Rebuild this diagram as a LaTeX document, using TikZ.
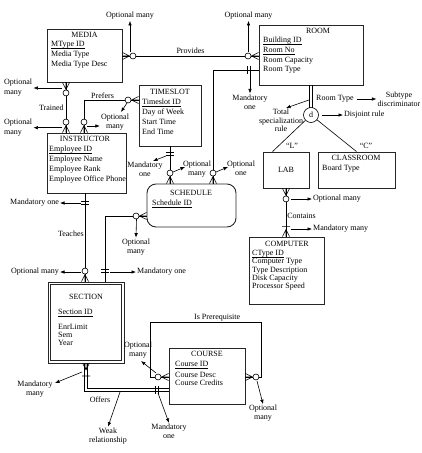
\documentclass[tikz,border=0pt]{standalone}
\usepackage{fontspec}
\setmainfont{Liberation Serif}
\usetikzlibrary{arrows.meta, positioning}
\newcommand{\keyattr}[1]{\underline{\smash{#1}}}

\begin{document}
\begin{tikzpicture}[
    x=1pt, y=-1pt,
    entity/.style={draw=black!85, line width=0.9pt, inner sep=0pt, font=\fontsize{8}{9}\selectfont},
    title/.style={font=\fontsize{8}{9}\selectfont, inner sep=0pt, anchor=base},
    attrs/.style={font=\fontsize{8}{10}\selectfont, align=left, inner sep=0pt, anchor=north west},
    note/.style={font=\fontsize{8}{9}\selectfont, align=center, inner sep=1pt},
    conn/.style={line width=0.6pt},
    arrow/.style={conn, -{Latex[length=4.5pt, width=3.5pt]}},
    pics/optmany/.style={code={
        \draw[conn] (0,-3.5) -- (-7,0) -- (0,3.5) (-7,0) -- (0,0);
        \draw[conn, fill=white] (-10.5,0) circle (3);}},
    pics/mandone/.style={code={
        \draw[conn] (-#1,-4) -- (-#1,4) (-#1-3,-4) -- (-#1-3,4);}},
    pics/mandmany/.style={code={
        \draw[conn] (0,-3.5) -- (-7,0) -- (0,3.5) (-7,0) -- (0,0) (-#1,-4) -- (-#1,4);}}
]
\useasboundingbox (0,0) rectangle (422,453);

% entities
\node[entity, minimum width=75pt, minimum height=53pt] (media) at (84.5,55.5) {};
\node[title] (mediat) at (84.5,37.5) {MEDIA};
\node[attrs] (mediaa) at (51,39.5) {\strut\keyattr{MType ID}\\Media Type\\Media Type Desc};

\node[entity, minimum width=104pt, minimum height=60pt] (room) at (311,55) {};
\node[title] (roomt) at (318,33.5) {ROOM};
\node[attrs, font=\fontsize{8}{9.7}\selectfont] (rooma) at (263,35.7) {\strut\keyattr{Building ID}\\\keyattr{Room No}\\Room Capacity\\Room Type};

\node[entity, minimum width=62pt, minimum height=61pt] (timeslot) at (170,115.5) {};
\node[title] (timeslott) at (170,94.5) {TIMESLOT};
\node[attrs] (timeslota) at (142,97.5) {\strut\keyattr{Timeslot ID}\\Day of Week\\Start Time\\End Time};

\node[entity, minimum width=79pt, minimum height=60pt] (instructor) at (86.5,163) {};
\node[title] (instructort) at (85,141.5) {INSTRUCTOR};
\node[attrs] (instructora) at (49,144.5) {\strut\keyattr{Employee ID}\\Employee Name\\Employee Rank\\Employee Office Phone};

\node[entity, rounded corners=9pt, minimum width=89pt, minimum height=43pt] (schedule) at (191.5,205.5) {};
\node[title] (schedulet) at (191,195.5) {SCHEDULE};
\node[title, anchor=base west] (schedulea) at (152,205.5) {\keyattr{Schedule ID}};

\node[entity, minimum width=46pt, minimum height=36pt] (lab) at (286,170) {LAB};

\node[entity, minimum width=77pt, minimum height=36pt] (classroom) at (356.5,170) {};
\node[title] (classroomt) at (356,160.5) {CLASSROOM};
\node[title, anchor=base west] (classrooma) at (322,170.5) {Board Type};

\node[entity, minimum width=75pt, minimum height=67pt] (computer) at (286.5,270.5) {};
\node[title] (computert) at (287,246.5) {COMPUTER};
\node[attrs, font=\fontsize{8}{8.2}\selectfont] (computera) at (252,249.8) {\strut\keyattr{CType ID}\\Computer Type\\Type Description\\Disk Capacity\\Processor Speed};

\node[entity, minimum width=76pt, minimum height=81pt] (sect) at (86,322.5) {};
\draw[draw=black!85, line width=0.9pt] ([shift={(3,3)}]sect.north west) rectangle ([shift={(-3,-3)}]sect.south east);
\node[title] (sectt) at (86,299.5) {SECTION};
\node[title, anchor=base west] (sectid) at (58,314.5) {\keyattr{Section ID}};
\node[attrs, font=\fontsize{8}{7.8}\selectfont] (secta) at (58,324) {\strut EnrLimit\\Sem\\Year};

\node[entity, minimum width=76pt, minimum height=56pt] (course) at (207,376) {};
\node[title] (courset) at (207,356.5) {COURSE};
\node[title, anchor=base west] (courseid) at (175,366.5) {\keyattr{Course ID}};
\node[attrs, font=\fontsize{8}{8}\selectfont] (coursea) at (175,371.9) {\strut Course Desc\\Course Credits};

\node[draw, circle, conn, minimum size=15pt, inner sep=0pt, font=\fontsize{8}{9}\selectfont] (disc) at (311,115) {d};

% relationships
\draw[conn] (media.east |- 0,56) -- node[note, above=1pt] (provides) {Provides} (room.west |- 0,56);
\pic[rotate=180] at (media.east |- 0,56) {optmany};
\pic at (room.west |- 0,56) {optmany};

\draw[conn] (room.west |- 0,70) -| (schedule.north -| 213,0);
\pic at (room.west |- 0,70) {mandone=8};
\pic[rotate=-90] at (schedule.north -| 213,0) {optmany};

\draw[conn] (media.south -| 66,0) -- node[note, left=1pt] (trained) {Trained} (instructor.north -| 66,0);
\pic[rotate=90] at (media.south -| 66,0) {optmany};
\pic[rotate=-90] at (instructor.north -| 66,0) {optmany};

\draw[conn] (timeslot.west |- 0,100) -| node[note, above, pos=0.33] (prefers) {Prefers} (instructor.north -| 84,0);
\pic at (timeslot.west |- 0,100) {optmany};
\pic[rotate=-90] at (instructor.north -| 84,0) {optmany};

\draw[conn] (instructor.south -| 85,0) -- node[note, left, pos=0.46] (teaches) {Teaches} (sect.north -| 85,0);
\pic[rotate=90] at (instructor.south -| 85,0) {mandone=8};
\pic[rotate=-90] at (sect.north -| 85,0) {optmany};

\draw[conn] (schedule.west |- 0,216) -| (sect.north -| 105,0);
\pic at (schedule.west |- 0,216) {optmany};
\pic[rotate=-90] at (sect.north -| 105,0) {mandone=9};

\draw[conn] (timeslot.south) -- (schedule.north -| timeslot.south);
\pic[rotate=90] at (timeslot.south) {mandone=6};
\pic[rotate=-90] at (schedule.north -| timeslot.south) {optmany};

% double line to the subtype circle
\draw[conn] ([xshift=-1.5pt]room.south) -- ([xshift=-1.5pt, yshift=-0.5pt]disc.north);
\draw[conn] ([xshift=1.5pt]room.south) -- ([xshift=1.5pt, yshift=-0.5pt]disc.north);
\draw[conn] (disc) -- ([xshift=10pt]lab.north west);
\draw[conn] (disc) -- (classroom.north);

\draw[conn] (lab.south) -- node[note, right, pos=0.57] (contains) {Contains} (computer.north -| lab.south);
\pic[rotate=90] at (lab.south) {optmany};
\pic[rotate=-90] at (computer.north -| lab.south) {mandmany=10};

\draw[conn] (course.west |- 0,377) -| ++(-18,-55) -| node[note, above, pos=0.3] (prereq) {Is Prerequisite} ++(111,55) -- (course.east |- 0,377);
\pic at (course.west |- 0,377) {optmany};
\pic[rotate=180] at (course.east |- 0,377) {optmany};

% double line for the weak relationship
\coordinate (offtop) at (86,363);
\coordinate (offbend) at (86,390);
\draw[conn] ([xshift=-1.5pt]offtop) |- ([yshift=-1.5pt]course.west |- offbend);
\draw[conn] ([xshift=1.5pt]offtop) |- ([yshift=1.5pt]course.west |- offbend);
\node[note] (offers) at (100,400) {Offers};
\pic[rotate=90] at (offtop) {mandmany=13};
\pic at (course.west |- offbend) {mandone=10};

% annotations
\node[note] (omprov1) at (130,16) {Optional many};
\node[note] (omprov2) at (248.5,16) {Optional many};
\draw[arrow] (130,52) -- (omprov1.south);
\draw[arrow] (248.5,52) -- (omprov2.south);

\node[note] (moroom) at (250,102) {Mandatory\\one};
\draw[arrow] (250,72) -- (moroom.north);
\node[note] (oosched) at (241,168.5) {Optional\\one};
\draw[arrow] (216,172) -- (228,167);

\node[note, align=left, anchor=west, font=\fontsize{8}{10}\selectfont] (omtrain1) at (3,88) {Optional\\many};
\node[note, align=left, anchor=west, font=\fontsize{8}{10}\selectfont] (omtrain2) at (3,127.7) {Optional\\many};
\draw[arrow] (62,88) -- (omtrain1.east);
\draw[arrow] (62,127.7) -- (omtrain2.east);

\node[note] (omprefer) at (115,122) {Optional\\many};
\draw[arrow] (127,103) -- (121,112);
\draw[arrow] (87,126) -- (omprefer.west |- 0,126);

\node[note] (motime) at (145,169) {Mandatory\\one};
\draw[arrow] (166,156) -- (153,161);
\node[note] (omtime) at (197,169) {Optional\\many};
\draw[arrow] (173,172) -- (185,167);

\node[note, anchor=east] (moteach) at (60,203) {Mandatory one};
\draw[arrow] (81,203) -- (moteach.east);
\node[note, anchor=east] (omteach) at (60,272) {Optional many};
\draw[arrow] (81,272) -- (omteach.east);

\node[note] (omsched) at (136,247) {Optional\\many};
\draw[arrow] (136.5,219) -- (omsched.north);
\node[note, anchor=west] (mosched) at (136,272) {Mandatory one};
\draw[arrow] (110,272) -- (mosched.west);

\node[note, anchor=west] (rtype) at (315,99) {Room Type};
\node[note] (subtype) at (399,99) {Subtype\\discriminator};
\draw[arrow] ([xshift=2pt]rtype.east) -- (subtype.west);
\node[note, font=\fontsize{8}{8.5}\selectfont] (totspec) at (281,120.5) {Total\\specialization\\rule};
\draw[arrow] (309,100) -- (286,108);
\node[note, anchor=west] (disjoint) at (343,115) {Disjoint rule};
\draw[arrow] (322,115) -- (disjoint.west);
\node[note] (lsub) at (292,146) {``L''};
\node[note] (csub) at (366,146) {``C''};

\node[note, anchor=west] (omlab) at (312,199) {Optional many};
\draw[arrow] (291,199) -- (omlab.west);
\node[note, anchor=west] (mmlab) at (312,229) {Mandatory many};
\draw[arrow] (291,229) -- (mmlab.west);

\node[note] (ompre1) at (138,350.5) {Optional\\many};
\draw[arrow] (156,373) -- (141,361);
\node[note] (ompre2) at (263,413.5) {Optional\\many};
\draw[arrow] (257,381) -- (ompre2.north);

\node[note] (mmsec) at (35,389) {Mandatory\\many};
\draw[arrow] (82,372) -- (55,383);
\node[note] (weak) at (108,436) {Weak\\relationship};
\draw[arrow] (120,392) -- (weak.north);
\node[note] (mocourse) at (169,431.5) {Mandatory\\one};
\draw[arrow] (158,393) -- (mocourse.north);

\end{tikzpicture}
\end{document}
